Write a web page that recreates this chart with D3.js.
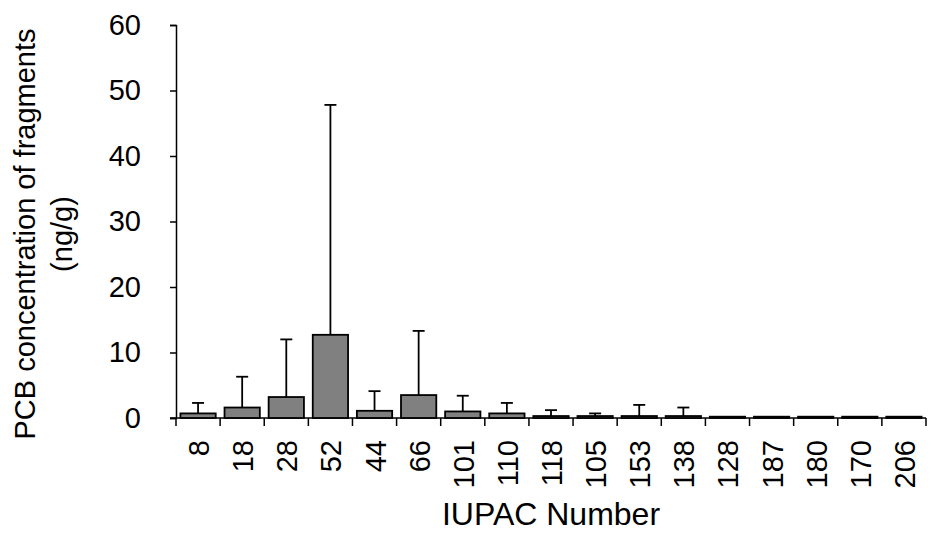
<!DOCTYPE html>
<html><head><meta charset="utf-8">
<script src="https://cdn.jsdelivr.net/npm/d3@7"></script>
<style>body{margin:0;background:#fff}svg{font-family:"Liberation Sans",Arial,sans-serif}</style>
</head><body><svg id="c" width="931" height="534"></svg>
<script>
const categories = ["8","18","28","52","44","66","101","110","118","105","153","138","128","187","180","170","206"];
const means = [0.7,1.6,3.2,12.7,1.1,3.5,1.0,0.7,0.3,0.3,0.3,0.3,0.2,0.2,0.2,0.2,0.2];
const errors = [1.6,4.7,8.8,35.1,3.0,9.8,2.4,1.6,0.9,0.4,1.7,1.3,0,0,0,0,0];
const yTicks = [0,10,20,30,40,50,60];

const svg = d3.select("#c");
const m = {l:176, r:926, t:25, b:418};
const x = d3.scaleBand().domain(categories).range([m.l, m.r]).paddingInner(0.2).paddingOuter(0.1);
const y = d3.scaleLinear().domain([0,60]).range([m.b, m.t]);
const FS = 29;

// y axis
const ya = svg.append("g").attr("transform",`translate(${m.l},0)`)
  .call(d3.axisLeft(y).tickValues(yTicks).tickSize(6).tickPadding(29));
ya.select(".domain").attr("stroke","#000").attr("stroke-width",1.5);
ya.selectAll(".tick line").attr("stroke","#000").attr("stroke-width",1.5);
ya.selectAll("text").attr("font-size",FS).attr("fill","#000").attr("font-family","Liberation Sans, Arial, sans-serif");

// x axis line & boundary ticks
const n = categories.length;
svg.append("line").attr("x1",m.l-6).attr("x2",m.r).attr("y1",m.b).attr("y2",m.b).attr("stroke","#000").attr("stroke-width",1.5);
const bounds = d3.range(n+1).map(i => m.l + (m.r-m.l)*i/n);
svg.selectAll(".bt").data(bounds).enter().append("line")
  .attr("x1",d=>d).attr("x2",d=>d).attr("y1",m.b).attr("y2",m.b+8).attr("stroke","#000").attr("stroke-width",1.5);

// error bars and bars
const bw = x.bandwidth();
const g = svg.append("g");
categories.forEach((c,i)=>{
  const cx = x(c)+bw/2;
  if (errors[i]>0){
    const top = y(means[i]+errors[i]);
    g.append("line").attr("x1",cx).attr("x2",cx).attr("y1",y(means[i])).attr("y2",top).attr("stroke","#000").attr("stroke-width",1.8);
    g.append("line").attr("x1",cx-6).attr("x2",cx+6).attr("y1",top).attr("y2",top).attr("stroke","#000").attr("stroke-width",1.8);
  }
});
g.selectAll("rect").data(categories).enter().append("rect")
  .attr("x",d=>x(d)).attr("width",bw)
  .attr("y",(d,i)=>y(means[i])).attr("height",(d,i)=>y(0)-y(means[i]))
  .attr("fill","#808080").attr("stroke","#000").attr("stroke-width",1.8);

// x labels
svg.selectAll(".xl").data(categories).enter().append("text")
  .attr("transform",d=>`translate(${x(d)+bw/2+11},440) rotate(-90)`)
  .attr("text-anchor","end").attr("font-size",FS).attr("fill","#000").text(d=>d);

// axis titles
svg.append("text").attr("x",551).attr("y",525).attr("text-anchor","middle").attr("font-size",32).text("IUPAC Number");
svg.append("text").attr("transform","translate(35,234) rotate(-90)").attr("text-anchor","middle").attr("font-size",FS).text("PCB concentration of fragments");
svg.append("text").attr("transform","translate(72,234) rotate(-90)").attr("text-anchor","middle").attr("font-size",FS).text("(ng/g)");
</script></body></html>
